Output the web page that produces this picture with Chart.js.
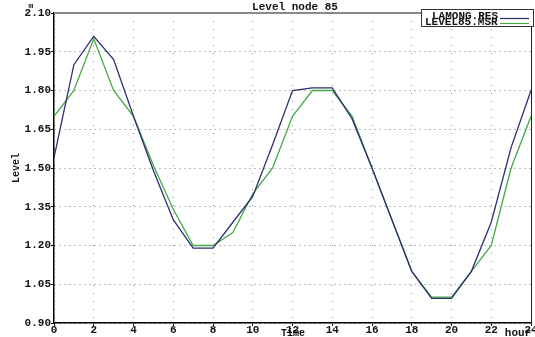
<!DOCTYPE html>
<html>
<head>
<meta charset="utf-8">
<script src="https://cdn.jsdelivr.net/npm/chart.js@4.4.0/dist/chart.umd.min.js"></script>
<style>
  html, body { margin: 0; padding: 0; background: #fff; }
  #wrap { width: 535px; height: 337px; position: relative; }
</style>
</head>
<body>
<div id="wrap"><canvas id="c" width="535" height="337"></canvas></div>
<script>
// ---- data ----
const hours = [0,1,2,3,4,5,6,7,8,9,10,11,12,13,14,15,16,17,18,19,20,21,22,23,24];
const lamongRes = [1.54,1.90,2.01,1.92,1.70,1.49,1.30,1.19,1.19,1.29,1.39,1.59,1.80,1.81,1.81,1.69,1.50,1.30,1.10,0.995,0.995,1.10,1.29,1.58,1.80];
const level85Msr = [1.70,1.80,2.00,1.80,1.70,1.51,1.34,1.20,1.20,1.25,1.40,1.50,1.70,1.80,1.80,1.70,1.50,1.30,1.10,1.00,1.00,1.10,1.20,1.50,1.70];
const xTicks = [0,2,4,6,8,10,12,14,16,18,20,22,24];
const yTicks = [0.90,1.05,1.20,1.35,1.50,1.65,1.80,1.95,2.10];
const seriesNames = ['LAMONG.RES', 'LEVEL85.MSR'];
const chartTitle = 'Level node 85';
const yTitle = 'Level';
const xTitle = 'Time';
const xUnit = 'hour';
const yUnit = 'm';

const BLUE = '#2e2e72';
const GREEN = '#45a845';
const MONO = '"Liberation Mono", "DejaVu Sans Mono", monospace';

const decor = {
  id: 'decor',
  afterDraw(chart) {
    const ctx = chart.ctx;
    const a = chart.chartArea;
    ctx.save();
    // top gray frame line
    ctx.strokeStyle = '#8a8a8a';
    ctx.lineWidth = 2;
    ctx.beginPath(); ctx.moveTo(a.left, a.top); ctx.lineTo(a.right + 1, a.top); ctx.stroke();
    // right frame line
    ctx.strokeStyle = '#222';
    ctx.lineWidth = 1;
    ctx.beginPath(); ctx.moveTo(a.right + 0.5, a.top); ctx.lineTo(a.right + 0.5, a.bottom); ctx.stroke();

    ctx.fillStyle = '#111';
    ctx.font = 'bold 11px ' + MONO;
    ctx.textAlign = 'center';
    ctx.textBaseline = 'middle';
    ctx.fillText(chartTitle, 295, 7);

    // unit m
    ctx.font = 'bold 8px ' + MONO;
    ctx.fillText(yUnit, 31, 6);

    // y title rotated
    ctx.save();
    ctx.translate(16, 168);
    ctx.rotate(-Math.PI / 2);
    ctx.font = 'bold 10px ' + MONO;
    ctx.fillText(yTitle, 0, 0);
    ctx.restore();

    // x title and unit
    ctx.font = 'bold 10px ' + MONO;
    ctx.fillText(xTitle, 293, 333.5);
    ctx.font = 'bold 11px ' + MONO;
    ctx.fillText(xUnit, 518, 333);

    // legend box
    const bx = 421, by = 9, bw = 112, bh = 17;
    ctx.fillStyle = '#fff';
    ctx.fillRect(bx, by, bw, bh);
    ctx.strokeStyle = '#333';
    ctx.lineWidth = 1;
    ctx.strokeRect(bx + 0.5, by + 0.5, bw, bh);
    ctx.fillStyle = '#111';
    ctx.font = 'bold 11px ' + MONO;
    ctx.textAlign = 'left';
    ctx.fillText(chart.data.datasets[0].label, 432, 16.5);
    ctx.fillText(chart.data.datasets[1].label, 425, 22);
    ctx.lineWidth = 1.2;
    ctx.strokeStyle = chart.data.datasets[0].borderColor;
    ctx.beginPath(); ctx.moveTo(500, 18.5); ctx.lineTo(529, 18.5); ctx.stroke();
    ctx.strokeStyle = chart.data.datasets[1].borderColor;
    ctx.beginPath(); ctx.moveTo(500, 23.5); ctx.lineTo(529, 23.5); ctx.stroke();
    ctx.restore();
  }
};

new Chart(document.getElementById('c'), {
  type: 'line',
  data: {
    labels: hours,
    datasets: [
      { label: seriesNames[0], data: hours.map((h, i) => ({x: h, y: lamongRes[i]})),
        borderColor: BLUE, borderWidth: 1.3, pointRadius: 0, tension: 0, fill: false },
      { label: seriesNames[1], data: hours.map((h, i) => ({x: h, y: level85Msr[i]})),
        borderColor: GREEN, borderWidth: 1.3, pointRadius: 0, tension: 0, fill: false }
    ]
  },
  options: {
    responsive: false,
    animation: false,
    devicePixelRatio: 1,
    layout: { padding: { left: 0, right: 4, top: 13, bottom: 0 } },
    plugins: { legend: { display: false }, title: { display: false }, tooltip: { enabled: false } },
    scales: {
      x: {
        type: 'linear', min: 0, max: 24,
        afterBuildTicks(s) { s.ticks = xTicks.map(v => ({ value: v })); },
        afterFit(s) { s.height = 14; s.paddingLeft = 0; s.paddingRight = 0; },
        ticks: { color: '#111', font: { family: MONO, size: 11, weight: 'bold' }, padding: -2, maxRotation: 0, autoSkip: false,
                 callback: v => String(v) },
        grid: { color: '#8c8c8c', lineWidth: 1, drawTicks: true, tickLength: 3, tickColor: '#111' },
        border: { display: true, color: '#000', width: 1.5, dash: [1, 7] }
      },
      y: {
        type: 'linear', min: 0.9, max: 2.1,
        afterBuildTicks(s) { s.ticks = yTicks.map(v => ({ value: v })); },
        afterFit(s) { s.width = 54; s.paddingTop = 0; s.paddingBottom = 0; },
        ticks: { color: '#111', font: { family: MONO, size: 11, weight: 'bold' }, padding: 0, autoSkip: false,
                 callback: v => Number(v).toFixed(2) },
        grid: { color: '#7a7a7a', lineWidth: 1, drawTicks: true, tickLength: 3, tickColor: '#111' },
        border: { display: true, color: '#000', width: 1.5, dash: [1, 4] }
      }
    }
  },
  plugins: [decor]
});
</script>
</body>
</html>
